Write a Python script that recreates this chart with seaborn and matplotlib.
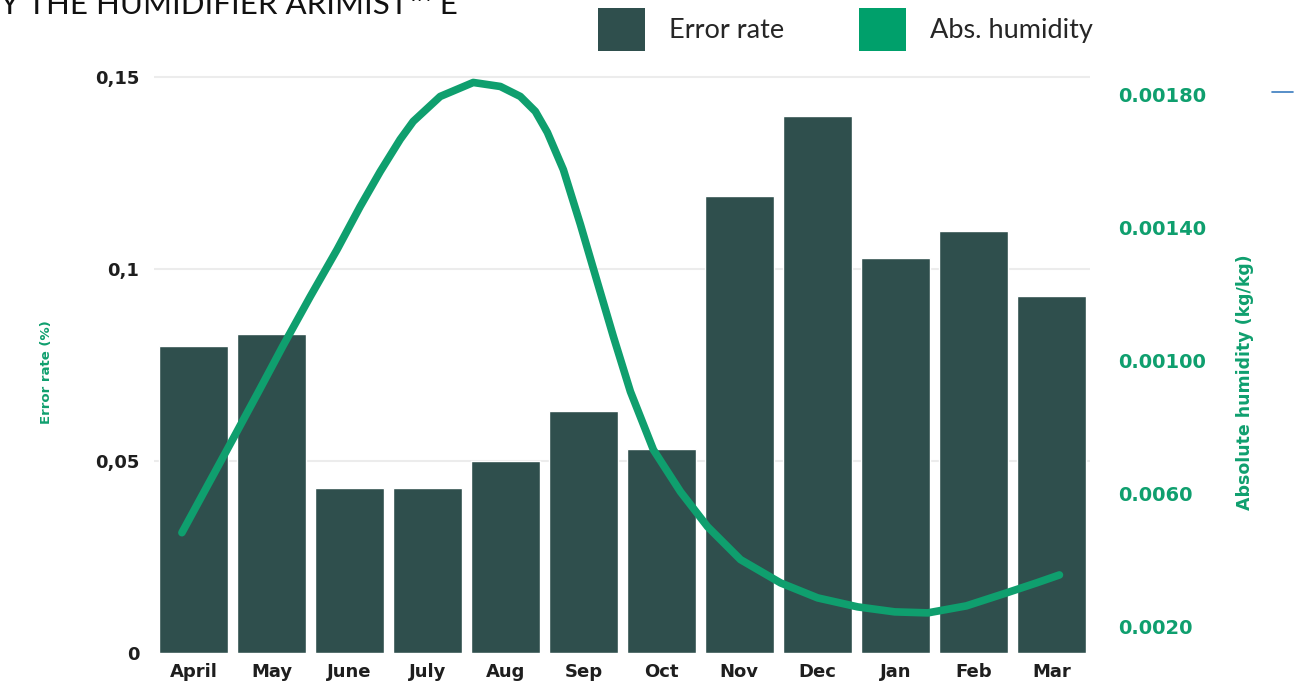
import numpy as np
import pandas as pd
import matplotlib.pyplot as plt
import seaborn as sns
from matplotlib.patches import Patch
from matplotlib.lines import Line2D

# Data
months = ["April", "May", "June", "July", "Aug", "Sep", "Oct", "Nov", "Dec", "Jan", "Feb", "Mar"]
error_rate = [0.080, 0.083, 0.043, 0.043, 0.050, 0.063, 0.053, 0.119, 0.140, 0.103, 0.110, 0.093]

# humidity curve, read at many points along the drawn line (x in month index units)
hum_pos = [-0.148, 0.186, 0.507, 0.828, 1.149, 1.496, 1.842, 2.137, 2.394, 2.651, 2.818, 3.164,
           3.588, 3.935, 4.191, 4.384, 4.538, 4.743, 4.962, 5.180, 5.385, 5.603, 5.898,
           6.245, 6.592, 7.015, 7.529, 8.004, 8.517, 8.992, 9.416, 9.910, 10.424, 10.809, 11.104]
humidity = [0.000483, 0.000627, 0.000765, 0.000904, 0.001045, 0.001192, 0.001334, 0.001463,
            0.001568, 0.001665, 0.001719, 0.001794, 0.001836, 0.001824, 0.001794, 0.001749,
            0.001686, 0.001574, 0.001409, 0.001235, 0.001072, 0.000907, 0.000732, 0.000606,
            0.000501, 0.000402, 0.000332, 0.000287, 0.000260, 0.000245, 0.000242, 0.000263,
            0.000302, 0.000332, 0.000356]

right_ticks = [0.0018, 0.0014, 0.0010, 0.0006, 0.0002]
right_labels = ["0.00180", "0.00140", "0.00100", "0.0060", "0.0020"]
left_ticks = [0, 0.05, 0.1, 0.15]
left_labels = ["0", "0,05", "0,1", "0,15"]

bar_color = "#2f4f4d"
green = "#0f9f6e"
tick_font = ["DejaVu Sans"]

sns.set_theme(style="white")
plt.rcParams['font.family'] = ['Lato', 'DejaVu Sans']

df = pd.DataFrame({"Month": months, "Error": error_rate})
hum = pd.DataFrame({"pos": hum_pos, "hum": humidity})

fig = plt.figure(figsize=(12.98, 6.93), dpi=100)
ax = fig.add_axes([0.119, 0.058, 0.721, 0.847])

sns.barplot(data=df, x="Month", y="Error", color=bar_color, saturation=1, width=0.885, ax=ax, zorder=2)
ax.set_ylim(0, 0.153)
ax.set_xlim(-0.5, 11.5)
ax.set_yticks(left_ticks)
ax.set_yticklabels(left_labels)
ax.set_xlabel("")
ax.set_ylabel("")
for y in [0.05, 0.1, 0.15]:
    ax.axhline(y, color="#ececec", lw=1.5, zorder=0)
ax.tick_params(axis="both", length=0, labelsize=13, colors="#1e1e1e")
ax.tick_params(axis="y", pad=11)
ax.tick_params(axis="x", pad=7)
for lab in ax.get_xticklabels() + ax.get_yticklabels():
    lab.set_fontweight("bold")
    lab.set_family(tick_font)
for s in ax.spines.values():
    s.set_visible(False)

ax2 = ax.twinx()
sns.lineplot(data=hum, x="pos", y="hum", color=green, lw=5.5, ax=ax2, zorder=3,
             solid_capstyle="round", solid_joinstyle="round")
ax2.set_ylim(0.000122, 0.001886)
ax2.set_yticks(right_ticks)
ax2.set_yticklabels(right_labels)
ax2.set_ylabel("")
ax2.set_xlabel("")
ax2.tick_params(axis="y", length=0, labelsize=14, colors=green, pad=20)
for lab in ax2.get_yticklabels():
    lab.set_fontweight("bold")
    lab.set_family(tick_font)
for s in ax2.spines.values():
    s.set_visible(False)

fig.text(0.036, 1 - 372 / 693, "Error rate (%)", rotation=90, ha="center", va="center",
         color=green, fontsize=9.5, fontweight="bold", family=tick_font)
fig.text(0.959, 1 - 382 / 693, "Absolute humidity (kg/kg)", rotation=90, ha="center", va="center",
         color=green, fontsize=12.5, fontweight="bold", family=tick_font)

# cropped title at the top (cut off in the reference too)
fig.text(0.0, 1 - 14 / 693, "Y THE HUMIDIFIER ARIMIST\u2122 E", ha="left", va="baseline",
         fontsize=22.5, color="#111111")

handles = [Patch(facecolor=bar_color, edgecolor="none"), Patch(facecolor="#00a06b", edgecolor="none")]
fig.legend(handles, ["Error rate", "Abs. humidity"], loc="upper left",
           bbox_to_anchor=(598 / 1298, 1 - 8 / 693), ncol=2, frameon=False,
           fontsize=19.5, handlelength=1.74, handleheight=2.05, handletextpad=0.89,
           columnspacing=2.74, borderpad=0, borderaxespad=0)

fig.add_artist(Line2D([1272 / 1298, 1293 / 1298], [1 - 92 / 693, 1 - 92 / 693],
                      color="#3a7bbf", lw=1.2))

plt.savefig("out.png", dpi=100)
plt.close()
